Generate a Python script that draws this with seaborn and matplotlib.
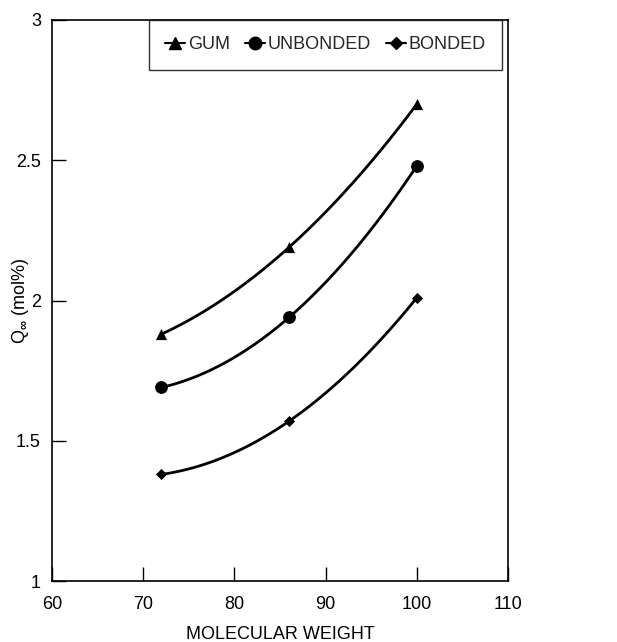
import matplotlib
matplotlib.use("Agg")
import matplotlib.pyplot as plt
import seaborn as sns
import pandas as pd
from matplotlib.lines import Line2D

mol_weight = [72, 86, 100]
gum = [1.88, 2.19, 2.70]
unbonded = [1.69, 1.94, 2.48]
bonded = [1.38, 1.57, 2.01]
series_names = ["GUM", "UNBONDED", "BONDED"]
x_ticks = [60, 70, 80, 90, 100, 110]
y_ticks = [1, 1.5, 2, 2.5, 3]
y_tick_labels = ["1", "1.5", "2", "2.5", "3"]

sns.set_theme(style="white")
plt.rcParams['font.family'] = ['Liberation Sans', 'DejaVu Sans']
plt.rcParams['mathtext.fontset'] = 'custom'
plt.rcParams['mathtext.rm'] = 'Liberation Sans'
plt.rcParams['mathtext.it'] = 'Liberation Sans'
plt.rcParams['mathtext.bf'] = 'Liberation Sans:bold'

fig = plt.figure(figsize=(6.17, 6.42), dpi=100)
ax = fig.add_axes([52/617, 1 - 581/642, (508-52)/617, (581-20)/642])

markers = {"GUM": "^", "UNBONDED": "o", "BONDED": "D"}
msizes = {"GUM": 65, "UNBONDED": 85, "BONDED": 32}
data = {"GUM": gum, "UNBONDED": unbonded, "BONDED": bonded}

for name in series_names:
    df = pd.DataFrame({"x": mol_weight, "y": data[name]})
    sns.regplot(data=df, x="x", y="y", order=2, ci=None, ax=ax,
                marker=markers[name], color="black", truncate=True,
                scatter_kws={"s": msizes[name], "linewidths": 0, "alpha": 1},
                line_kws={"lw": 2.0, "color": "black"})

ax.set_xlim(60, 110)
ax.set_ylim(1, 3)
ax.set_xticks(x_ticks)
ax.set_xticklabels([str(t) for t in x_ticks])
ax.set_yticks(y_ticks)
ax.set_yticklabels(y_tick_labels)
ax.tick_params(axis="both", direction="in", length=10, width=1, color="black",
               labelsize=13, labelcolor="black", bottom=True, left=True)
ax.tick_params(axis="x", pad=11)
ax.tick_params(axis="y", pad=8)
for s in ax.spines.values():
    s.set_color("black")
    s.set_linewidth(1.2)

ax.set_xlabel("MOLECULAR WEIGHT", fontsize=13, color="black", va="top")
ax.xaxis.set_label_coords(0.5, (581 - 626) / 561)
ax.set_ylabel(r"Q$_{\mathbf{\infty}}$ (mol%)", fontsize=13, color="black")
ax.yaxis.set_label_coords((31 - 52) / 456, 0.5)

handles = [Line2D([0], [0], color="black", lw=1.5, marker=markers[n],
                  markersize={"GUM": 8, "UNBONDED": 9, "BONDED": 6}[n])
           for n in series_names]
h = (73 - 20) / 561
leg = ax.legend(handles, series_names, loc="upper left",
                bbox_to_anchor=((149-52)/456, 1.0 - h, (502-149)/456, h),
                mode="expand", ncol=3, handlelength=1.1, handletextpad=0.15,
                columnspacing=0.5, fontsize=13, frameon=True, fancybox=False,
                borderaxespad=0, borderpad=0.9)
leg.get_frame().set_edgecolor("black")
leg.get_frame().set_linewidth(1.0)

fig.savefig("out.png", dpi=100)
